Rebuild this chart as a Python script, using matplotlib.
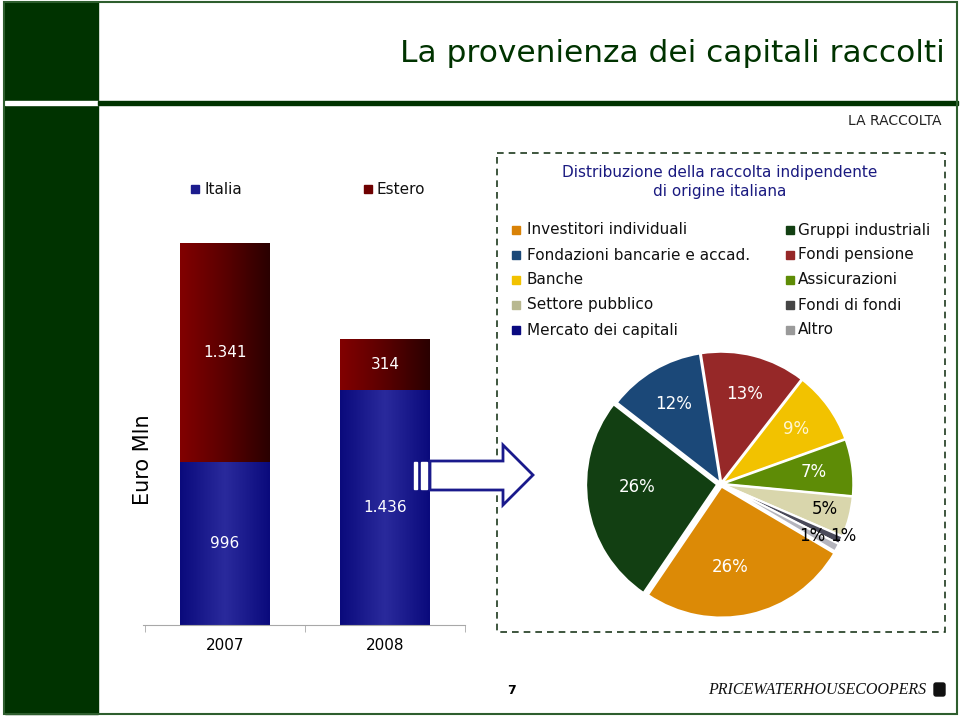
import numpy as np
import matplotlib.pyplot as plt
from matplotlib.patches import Rectangle, Polygon, FancyBboxPatch
from matplotlib.colors import LinearSegmentedColormap

# ---------------- dati ----------------
anni = ["2007", "2008"]
italia = [996, 1436]
estero = [1341, 314]
etichette_italia = ["996", "1.436"]
etichette_estero = ["1.341", "314"]

# torta (ordine orario a partire dall'alto)
torta_categorie = ["Fondi pensione", "Banche", "Assicurazioni", "Settore pubblico",
                   "Fondi di fondi", "Altro", "Investitori individuali",
                   "Gruppi industriali", "Fondazioni bancarie e accad."]
torta_valori = [13, 9, 7, 5, 1, 1, 26, 26, 12]
torta_colori = ["#962828", "#F2C200", "#5E8C06", "#D9D6AC", "#4A4A5A", "#B4B4BC",
                "#DC8A06", "#123F12", "#1B4878"]

legenda_sx = ["Investitori individuali", "Fondazioni bancarie e accad.", "Banche",
              "Settore pubblico", "Mercato dei capitali"]
colori_sx = ["#D98206", "#1B4878", "#F2C200", "#B8B890", "#0A0A80"]
legenda_dx = ["Gruppi industriali", "Fondi pensione", "Assicurazioni",
              "Fondi di fondi", "Altro"]
colori_dx = ["#123F12", "#962828", "#5E8C06", "#454545", "#9A9A9A"]

VERDE = "#003300"
W, H = 960, 716

fig = plt.figure(figsize=(9.6, 7.16), dpi=100)

# ---------------- sfondo della slide ----------------
bg = fig.add_axes([0, 0, 1, 1], zorder=0)
bg.set_xlim(0, W)
bg.set_ylim(H, 0)
bg.axis("off")
bg.add_patch(Rectangle((5, 2), 93, 712, color=VERDE))
bg.add_patch(Rectangle((5, 101), 93, 3.5, color="white"))
bg.add_patch(Rectangle((98, 100.5), 860, 4, color=VERDE))
bg.add_patch(Rectangle((4, 2), 953, 712, fill=False, ec="#2E5E2E", lw=1.5))
bg.text(945, 53, "La provenienza dei capitali raccolti", ha="right", va="center",
        fontsize=22.5, color=VERDE)
bg.text(942, 121, "LA RACCOLTA", ha="right", va="center", fontsize=10, color="#222222")

# riquadro tratteggiato
bg.add_patch(Rectangle((497, 153), 448, 479, fill=False, ec="#1E3A1E", lw=1.2,
                       ls=(0, (4, 3))))
bg.text(720, 182, "Distribuzione della raccolta indipendente\ndi origine italiana",
        ha="center", va="center", fontsize=11, color="#1A1A80", linespacing=1.35)

# legenda della torta
for i, (lab, col) in enumerate(zip(legenda_sx, colori_sx)):
    y = 230 + i * 25
    bg.add_patch(Rectangle((512, y - 4), 8, 8, color=col))
    bg.text(527, y, lab, va="center", fontsize=11, color="#111111")
for i, (lab, col) in enumerate(zip(legenda_dx, colori_dx)):
    y = 230 + i * 25
    bg.add_patch(Rectangle((786, y - 4), 8, 8, color=col))
    bg.text(798, y, lab, va="center", fontsize=11, color="#111111")

# legenda barre
bg.add_patch(Rectangle((191, 185), 8, 8, color="#1C1C8E"))
bg.text(205, 189, "Italia", va="center", fontsize=11, color="#111111")
bg.add_patch(Rectangle((364, 185), 8, 8, color="#6E0000"))
bg.text(377, 189, "Estero", va="center", fontsize=11, color="#111111")

# pie di pagina
bg.text(512, 691, "7", ha="center", va="center", fontsize=9, fontweight="bold")
bg.text(926, 690, "PRICEWATERHOUSECOOPERS", ha="right", va="center", fontsize=11.5,
        family="Liberation Serif", style="italic", color="#111111")
bg.add_patch(FancyBboxPatch((934, 683), 11, 13, boxstyle="round,pad=0,rounding_size=2",
                            color="#111111"))

# ---------------- grafico a barre ----------------
px = 0.1635  # pixel per milione
ax = fig.add_axes([143 / W, (H - 625) / H, 322 / W, 420 / H], zorder=1)
x = np.arange(len(anni))
larg = 90 / 160
b1 = ax.bar(x, italia, width=larg, color="none", lw=0)
b2 = ax.bar(x, estero, bottom=italia, width=larg, color="none", lw=0)
ax.set_xlim(-0.5125, 1.5)
ax.set_ylim(0, 420 / px)

cm_blu = LinearSegmentedColormap.from_list("blu", ["#0A0A7C", "#2A2A9C", "#0A0A7C"])
cm_ros = LinearSegmentedColormap.from_list("ros", ["#820000", "#5A0000", "#2A0000"])
grad = np.linspace(0, 1, 256).reshape(1, -1)
for patches, cm in ((b1, cm_blu), (b2, cm_ros)):
    for p in patches:
        x0, y0 = p.get_x(), p.get_y()
        im = ax.imshow(grad, cmap=cm, aspect="auto", zorder=2,
                       extent=[x0, x0 + p.get_width(), y0, y0 + p.get_height()])
        im.set_clip_path(p)
        ax.add_patch(p)

for i in range(len(anni)):
    ax.text(x[i], italia[i] / 2, etichette_italia[i], ha="center", va="center",
            color="white", fontsize=11, zorder=3)
    ax.text(x[i], italia[i] + estero[i] / 2, etichette_estero[i], ha="center",
            va="center", color="white", fontsize=11, zorder=3)

for s in ("top", "right", "left"):
    ax.spines[s].set_visible(False)
ax.spines["bottom"].set_color("#A8A8A8")
ax.set_yticks([])
ax.set_xticks(x)
ax.set_xticklabels(anni, fontsize=11)
ax.tick_params(axis="x", which="major", length=0, pad=9)
ax.set_xticks([-0.5, 0.5, 1.5], minor=True)
ax.tick_params(axis="x", which="minor", length=5, color="#A8A8A8")
ax.patch.set_alpha(0)
fig.text(143 / W, 1 - 460 / H, "Euro Mln", rotation=90, ha="center", va="center",
         fontsize=15)

# ---------------- torta ----------------
r = 131
pax = fig.add_axes([(721 - 1.1 * r) / W, (H - 484 - 1.1 * r) / H, 2.2 * r / W, 2.2 * r / H],
                   zorder=1)
esplodi = [0.01, 0.01, 0.01, 0.01, 0.01, 0.01, 0.02, 0.03, 0.01]
wedges, testi, pct = pax.pie(torta_valori, colors=torta_colori, startangle=99,
                             counterclock=False, explode=esplodi,
                             autopct=lambda p: f"{p:.0f}%", pctdistance=0.7,
                             wedgeprops=dict(edgecolor="white", linewidth=1.5),
                             textprops=dict(fontsize=12, color="white"))
pax.set_xlim(-1.1, 1.1)
pax.set_ylim(-1.1, 1.1)
pax.set_aspect("equal")
pct[3].set_color("black")
pct[3].set_position((0.79, -0.19))
pct[4].set_color("black")
pct[4].set_position((0.70, -0.40))
pct[5].set_color("black")
pct[5].set_position((0.93, -0.40))
pct[1].set_color("#FFF6D0")
pct[6].set_position((0.07, -0.63))
pct[7].set_position((-0.64, -0.02))

# ---------------- freccia ----------------
fg = fig.add_axes([0, 0, 1, 1], zorder=5)
fg.set_xlim(0, W)
fg.set_ylim(H, 0)
fg.axis("off")
freccia = [(430, 461), (503, 461), (503, 445), (533, 475), (503, 505), (503, 490), (430, 490)]
fg.add_patch(Polygon(freccia, closed=True, fc="white", ec="#1A1A8C", lw=2))
fg.add_patch(Rectangle((414, 462), 3, 27, color="white"))
fg.add_patch(Rectangle((421, 462), 6, 27, color="white"))

fig.savefig("out.png", dpi=100)
